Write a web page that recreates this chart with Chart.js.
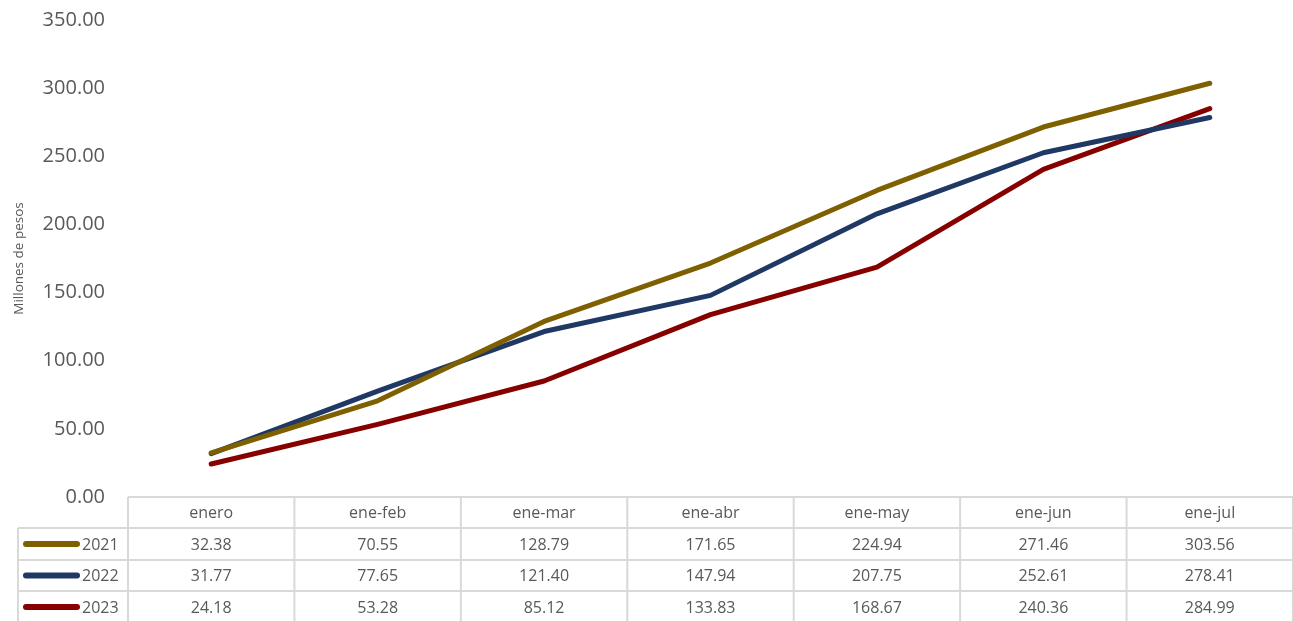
<!DOCTYPE html>
<html lang="es">
<head>
    <meta charset="UTF-8">
    <title>Millones de pesos acumulados</title>
    <style>
        html, body { margin: 0; padding: 0; background: #ffffff; }
        #wrap { width: 1293px; height: 621px; }
    </style>
    <script src="https://cdn.jsdelivr.net/npm/chart.js"></script>
</head>
<body>
    <div id="wrap"><canvas id="grafica" width="1293" height="621"></canvas></div>

    <script>
        // Datos
        const meses = ['enero', 'ene-feb', 'ene-mar', 'ene-abr', 'ene-may', 'ene-jun', 'ene-jul'];
        const anios = ['2021', '2022', '2023'];
        const valores2021 = [32.38, 70.55, 128.79, 171.65, 224.94, 271.46, 303.56];
        const valores2022 = [31.77, 77.65, 121.40, 147.94, 207.75, 252.61, 278.41];
        const valores2023 = [24.18, 53.28, 85.12, 133.83, 168.67, 240.36, 284.99];
        const colores = ['#7f6000', '#1f3864', '#860000'];

        const fuente = "'Open Sans', 'Liberation Sans', sans-serif";
        const gris = '#595959';
        const lineaTabla = '#d9d9d9';

        // tabla de datos debajo del area de la grafica
        const tablaDatos = {
            id: 'tablaDatos',
            afterDraw(chart) {
                const ctx = chart.ctx;
                const x = chart.scales.x;
                const area = chart.chartArea;
                const series = chart.data.datasets;
                const top = area.bottom;
                const filas = [top, top + 31, top + 63, top + 94];
                const fondo = chart.height;
                const ancho = (area.right - area.left) / meses.length;

                ctx.save();
                ctx.strokeStyle = lineaTabla;
                ctx.lineWidth = 2;
                ctx.beginPath();
                // horizontales
                ctx.moveTo(area.left, filas[0]); ctx.lineTo(area.right + 4, filas[0]);
                for (let i = 1; i < filas.length; i++) {
                    ctx.moveTo(18, filas[i]); ctx.lineTo(area.right + 4, filas[i]);
                }
                // verticales
                ctx.moveTo(18, filas[1]); ctx.lineTo(18, fondo);
                for (let i = 0; i <= meses.length; i++) {
                    const vx = area.left + i * ancho;
                    ctx.moveTo(vx, filas[0]); ctx.lineTo(vx, fondo);
                }
                ctx.stroke();

                ctx.fillStyle = gris;
                ctx.font = '16px ' + fuente;
                ctx.textAlign = 'center';
                ctx.textBaseline = 'middle';
                meses.forEach((m, i) => {
                    const cx = x.getPixelForValue(i);
                    ctx.fillText(m, cx, (filas[0] + filas[1]) / 2 + 1);
                    series.forEach((ds, j) => {
                        const cy = j < 2 ? (filas[j + 1] + filas[j + 2]) / 2 : (filas[3] + fondo) / 2 + 1;
                        ctx.fillText(ds.data[i].toFixed(2), cx, cy + 1);
                    });
                });

                // leyenda dentro de la tabla
                series.forEach((ds, j) => {
                    const cy = j < 2 ? (filas[j + 1] + filas[j + 2]) / 2 : (filas[3] + fondo) / 2 + 1;
                    ctx.strokeStyle = ds.borderColor;
                    ctx.lineWidth = 6;
                    ctx.lineCap = 'round';
                    ctx.beginPath();
                    ctx.moveTo(26, cy); ctx.lineTo(77, cy);
                    ctx.stroke();
                    ctx.textAlign = 'left';
                    ctx.fillText(ds.label, 82, cy + 1);
                });
                ctx.restore();
            }
        };

        new Chart(document.getElementById('grafica'), {
            type: 'line',
            data: {
                labels: meses,
                datasets: [
                    { label: anios[0], data: valores2021, borderColor: colores[0] },
                    { label: anios[1], data: valores2022, borderColor: colores[1] },
                    { label: anios[2], data: valores2023, borderColor: colores[2] }
                ]
            },
            options: {
                responsive: false,
                animation: false,
                layout: { padding: { top: 20, right: 0, left: 0, bottom: 0 } },
                elements: {
                    line: { borderWidth: 5, tension: 0, borderCapStyle: 'round', borderJoinStyle: 'round' },
                    point: { radius: 0 }
                },
                plugins: {
                    legend: { display: false },
                    tooltip: { enabled: false }
                },
                scales: {
                    x: {
                        offset: true,
                        grid: { display: false },
                        border: { display: false },
                        ticks: { display: false },
                        afterFit(s) { s.height = 124; }
                    },
                    y: {
                        min: 0,
                        max: 350,
                        grid: { display: false },
                        border: { display: false },
                        ticks: {
                            stepSize: 50,
                            padding: 15,
                            color: gris,
                            font: { family: fuente, size: 20 },
                            callback: v => v.toFixed(2)
                        },
                        title: {
                            display: true,
                            text: 'Millones de pesos',
                            color: gris,
                            font: { family: fuente, size: 13.5 },
                            padding: { top: 11, bottom: 0 }
                        },
                        afterFit(s) {
                            s.width = 128;
                            s.paddingTop = 0;
                            s.paddingBottom = 0;
                        }
                    }
                }
            },
            plugins: [tablaDatos]
        });
    </script>
</body>
</html>
